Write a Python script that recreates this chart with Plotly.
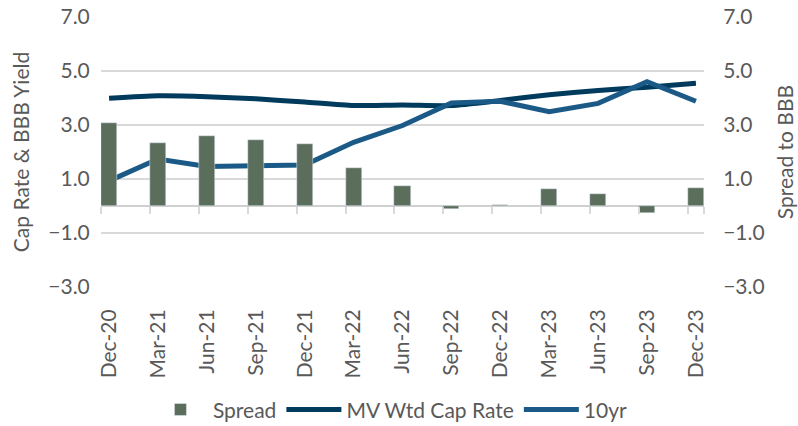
import plotly.graph_objects as go

categories = ["Dec-20", "Mar-21", "Jun-21", "Sep-21", "Dec-21", "Mar-22", "Jun-22",
              "Sep-22", "Dec-22", "Mar-23", "Jun-23", "Sep-23", "Dec-23"]
spread = [3.06, 2.35, 2.59, 2.44, 2.30, 1.39, 0.74, -0.12, 0.02, 0.62, 0.43, -0.25, 0.67]
cap_rate = [3.99, 4.08, 4.05, 3.97, 3.85, 3.72, 3.74, 3.72, 3.91, 4.12, 4.28, 4.40, 4.55]
ten_yr = [0.93, 1.74, 1.46, 1.51, 1.52, 2.36, 2.98, 3.82, 3.88, 3.49, 3.80, 4.60, 3.88]
y_ticks = [-3, -1, 1, 3, 5, 7]

idx = list(range(len(categories)))
bar_w = 0.33
grey = "#595959"
font = "Lato"
fs = 21

fig = go.Figure()
fig.add_trace(go.Bar(x=idx, y=spread, name="Spread", marker_color="#5B6E5C",
                     width=bar_w, yaxis="y2"))
fig.add_trace(go.Scatter(x=idx, y=cap_rate, name="MV Wtd Cap Rate", mode="lines",
                         line=dict(color="#003A5D", width=5, shape="spline", smoothing=0.6)))
fig.add_trace(go.Scatter(x=idx, y=ten_yr, name="10yr", mode="lines",
                         line=dict(color="#1B5A86", width=5)))
# invisible trace to host boundary tick marks on xaxis2
fig.add_trace(go.Scatter(x=[idx[0]], y=[0], xaxis="x2", mode="markers",
                         marker=dict(opacity=0), showlegend=False, hoverinfo="skip"))

xr = [idx[0] - bar_w / 2, idx[-1] + bar_w / 2]
fig.update_layout(
    width=798, height=426,
    margin=dict(l=101, r=94, t=17, b=139, autoexpand=False),
    paper_bgcolor="white", plot_bgcolor="white",
    font=dict(family=font, color=grey, size=fs),
    bargap=0,
    xaxis=dict(range=xr, tickvals=idx, ticktext=categories, tickangle=-90,
               showgrid=False, zeroline=False, showline=False, automargin=False,
               ticks="outside", ticklen=13, tickcolor="rgba(0,0,0,0)",
               tickfont=dict(size=fs, color=grey)),
    xaxis2=dict(range=xr, overlaying="x", anchor="free", position=3 / 10,
                tickvals=[i - bar_w / 2 for i in idx] + [idx[-1] + bar_w / 2],
                ticks="outside", ticklen=7, tickcolor="#d9d9d9", tickwidth=1.5,
                showticklabels=False, showgrid=False, zeroline=False, showline=False),
    yaxis=dict(range=[-3, 7], tickvals=y_ticks, tickformat=".1f", automargin=False,
               showgrid=True, gridcolor="#d9d9d9", gridwidth=1.5,
               zeroline=True, zerolinecolor="#d0d0d0", zerolinewidth=2,
               ticks="outside", ticklen=6, tickcolor="rgba(0,0,0,0)",
               tickfont=dict(size=fs, color=grey)),
    yaxis2=dict(range=[-3, 7], tickvals=y_ticks, tickformat=".1f", overlaying="y", side="right",
                showgrid=False, zeroline=False, automargin=False,
                ticks="outside", ticklen=14, tickcolor="rgba(0,0,0,0)",
                tickfont=dict(size=fs, color=grey)),
    legend=dict(orientation="h", x=0.48, xanchor="center", y=-0.455, yanchor="middle",
                font=dict(size=fs, color=grey), itemwidth=55, traceorder="normal"),
    showlegend=True,
    annotations=[
        dict(text="Cap Rate & BBB Yield", xref="paper", yref="paper", x=-0.134, y=0.5,
             textangle=-90, showarrow=False, font=dict(size=fs, color=grey),
             xanchor="center", yanchor="middle"),
        dict(text="Spread to BBB", xref="paper", yref="paper", x=1.133, y=0.5,
             textangle=-90, showarrow=False, font=dict(size=fs, color=grey),
             xanchor="center", yanchor="middle"),
    ],
)

fig.write_html("out.html", config={"displayModeBar": False},
               post_script="document.body.style.margin='0px';")
